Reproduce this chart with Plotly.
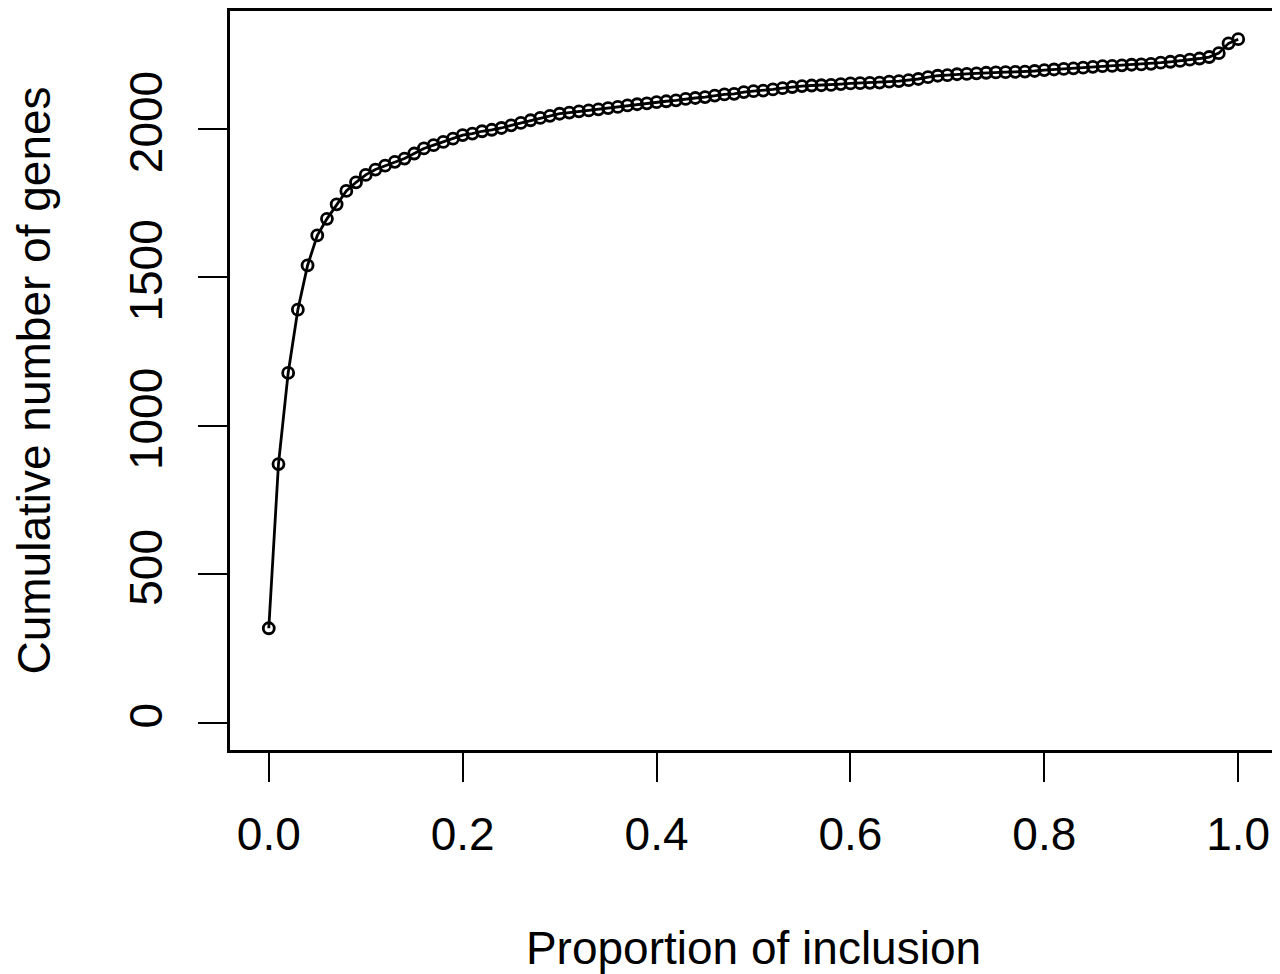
import plotly.graph_objects as go

proportion = [round(i * 0.01, 2) for i in range(101)]
cumulative_genes = [
    318, 871, 1178, 1391, 1540, 1641, 1697, 1746, 1791, 1820,
    1845, 1863, 1876, 1889, 1900, 1917, 1934, 1945, 1956, 1967,
    1979, 1984, 1992, 1997, 2003, 2012, 2020, 2029, 2037, 2044,
    2051, 2055, 2059, 2062, 2066, 2070, 2074, 2079, 2083, 2086,
    2090, 2093, 2096, 2101, 2104, 2107, 2112, 2116, 2118, 2124,
    2127, 2129, 2133, 2137, 2141, 2144, 2146, 2147, 2148, 2151,
    2153, 2154, 2155, 2156, 2159, 2161, 2164, 2168, 2174, 2179,
    2181, 2184, 2185, 2187, 2189, 2190, 2191, 2192, 2193, 2195,
    2198, 2200, 2202, 2204, 2206, 2209, 2211, 2212, 2214, 2216,
    2217, 2219, 2223, 2226, 2229, 2233, 2237, 2242, 2255, 2288,
    2302,
]
x_ticks = [0.0, 0.2, 0.4, 0.6, 0.8, 1.0]
x_tick_labels = ["0.0", "0.2", "0.4", "0.6", "0.8", "1.0"]
y_ticks = [0, 500, 1000, 1500, 2000]
y_tick_labels = ["0", "500", "1000", "1500", "2000"]

FONT = "Liberation Sans, Arial, Helvetica, sans-serif"

fig = go.Figure()
fig.add_trace(go.Scatter(
    x=proportion, y=cumulative_genes, mode="lines+markers",
    line=dict(color="black", width=2.8),
    marker=dict(symbol="circle-open", size=11, color="black", line=dict(width=2.8)),
    showlegend=False, hoverinfo="x+y",
))

axis_common = dict(
    showgrid=False, zeroline=False, showline=True, linecolor="black", linewidth=2.5,
    mirror=True, ticks="outside", ticklen=29, tickwidth=2, tickcolor="black",
    tickfont=dict(family=FONT, size=46, color="black"),
)

fig.update_xaxes(
    range=[-0.04, 1.04], tickvals=x_ticks, ticktext=x_tick_labels,
    ticklabelstandoff=13,
    title=dict(text="Proportion of inclusion", font=dict(family=FONT, size=46, color="black"), standoff=79),
    **axis_common,
)
fig.update_yaxes(
    range=[-92, 2397], tickvals=y_ticks, ticktext=y_tick_labels, tickangle=-90,
    ticklabelstandoff=18,
    title=dict(text="Cumulative number of genes", font=dict(family=FONT, size=46, color="black"), standoff=60),
    **axis_common,
)

fig.update_layout(
    width=1272, height=966,
    margin=dict(l=222, r=2, t=0, b=224),
    paper_bgcolor="white", plot_bgcolor="white",
    font=dict(family=FONT, color="black"),
)

fig.write_html("out.html")
